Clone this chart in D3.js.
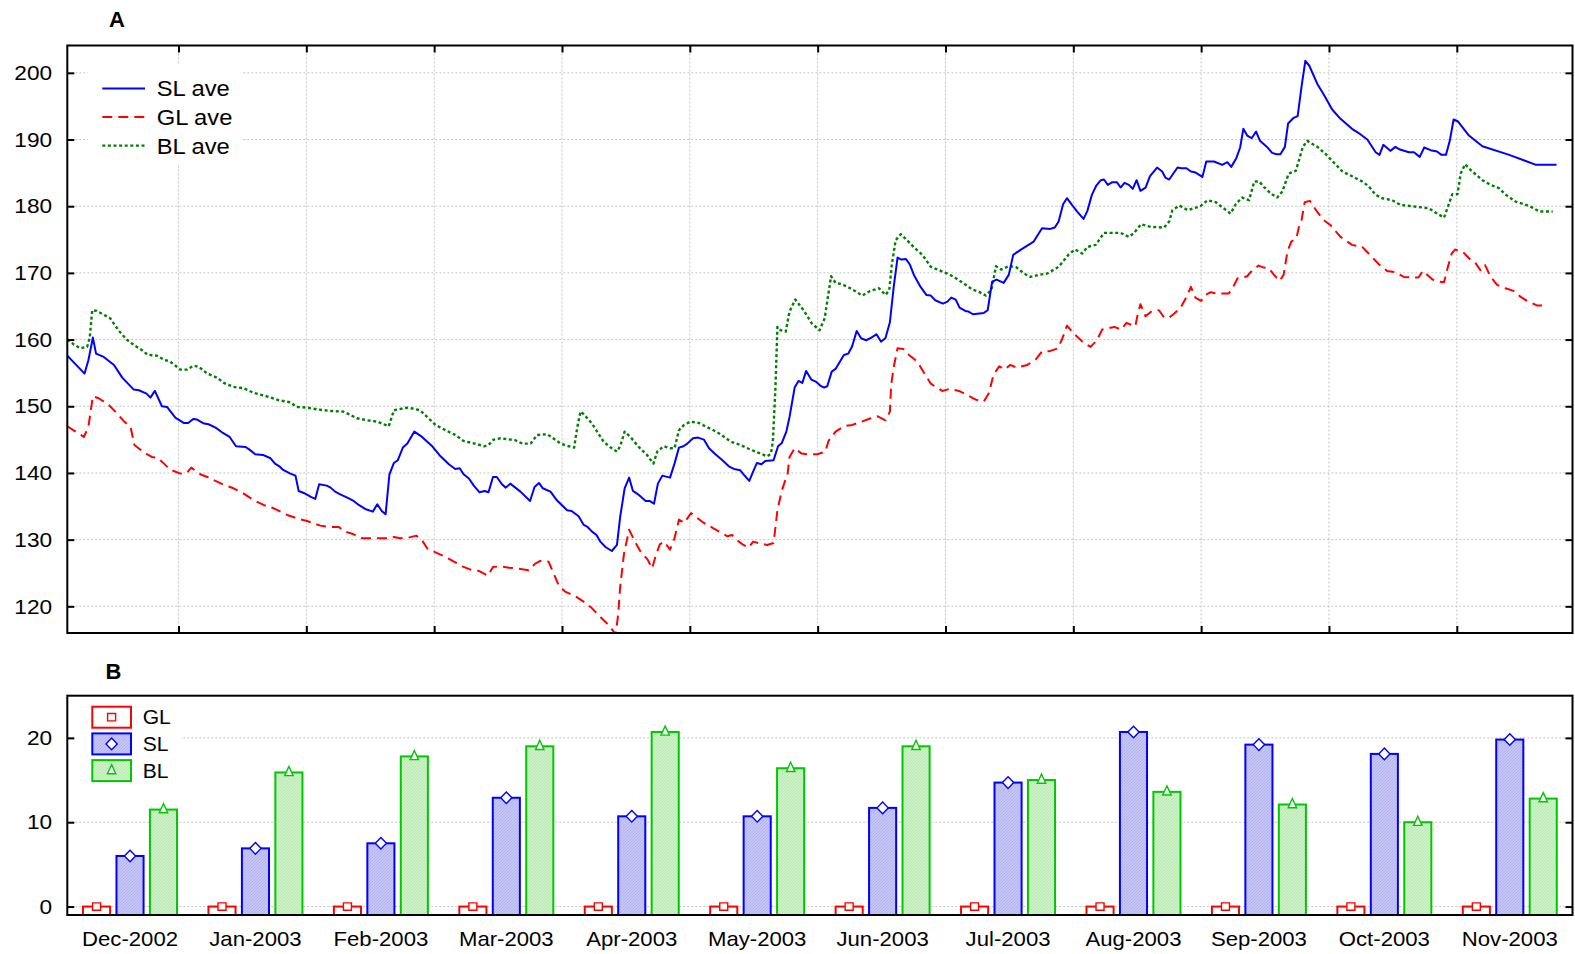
<!DOCTYPE html>
<html>
<head>
<meta charset="utf-8">
<script src="https://cdn.jsdelivr.net/npm/d3@7"></script>
<style>
  body { margin: 0; background: #fff; }
  svg { display: block; font-family: "Liberation Sans", Arial, sans-serif; }
  .grid line { stroke: #c4c4c4; stroke-width: 1; stroke-dasharray: 2,2; }
  .ticks line { stroke: #000; stroke-width: 2; }
  .ticks path { display: none; }
</style>
</head>
<body>
<div id="chart"></div>
<script>
// ---- data: panel A, daily averages as [day index, value]
const slAve = [[0,157.6],[2.7,154.9],[3.3,156.9],[4.0,160.3],[4.5,157.9],[5.7,157.4],[7.3,156.2],[8.6,154.3],[10.4,152.5],[11.2,152.4],[12.4,151.9],[13.0,151.3],[13.7,152.3],[14.8,150.0],[15.6,149.9],[16.9,148.3],[18.2,147.5],[18.9,147.5],[19.7,148.1],[20.3,148.0],[21.4,147.4],[22.1,147.3],[23.2,146.8],[24.2,146.1],[25.4,145.4],[26.4,144.0],[27.9,143.9],[28.5,143.5],[29.4,142.8],[30.6,142.7],[31.8,142.2],[32.5,141.4],[33.3,140.9],[33.7,140.5],[34.9,139.9],[35.7,139.6],[36.2,137.3],[37.0,137.0],[38.1,136.4],[38.8,136.1],[39.4,138.3],[40.6,138.1],[41.2,137.8],[41.9,137.2],[42.7,136.8],[43.8,136.3],[44.8,135.8],[45.6,135.2],[46.6,134.6],[47.8,134.2],[48.5,135.3],[49.2,134.3],[49.8,133.8],[50.4,139.8],[51.1,141.5],[51.7,141.9],[52.5,143.8],[53.2,144.4],[54.3,146.2],[55.5,145.4],[57.1,144.0],[58.4,142.5],[59.7,141.3],[60.7,140.6],[61.4,140.7],[62.0,139.8],[62.8,139.2],[63.6,138.1],[64.5,137.1],[65.3,137.3],[65.9,137.1],[66.6,139.4],[67.2,139.4],[68.0,138.3],[68.6,137.8],[69.3,138.4],[70.1,137.8],[70.9,137.2],[72.4,135.8],[73.1,137.9],[73.8,138.5],[74.4,137.7],[75.6,137.2],[76.6,135.9],[78.2,134.4],[78.9,134.3],[80.0,133.5],[80.8,132.2],[81.4,131.9],[82.1,131.2],[82.8,130.7],[83.4,129.7],[84.2,128.9],[85.2,128.3],[86.0,129.2],[86.5,133.4],[87.2,137.7],[87.9,139.3],[88.5,137.3],[89.3,136.8],[90.5,135.8],[91.1,135.8],[91.8,135.4],[92.4,138.4],[93.1,139.6],[94.3,139.3],[95.0,141.4],[95.7,143.8],[96.4,144.0],[97.0,144.4],[97.9,145.2],[98.7,145.3],[99.6,145.0],[100.4,143.7],[101.4,142.8],[102.5,141.9],[103.5,141.0],[104.3,140.6],[105.3,140.4],[105.8,139.8],[106.7,138.8],[107.3,140.2],[107.9,141.5],[108.6,141.3],[109.2,141.8],[110.5,141.9],[111.2,144.0],[111.8,144.5],[112.5,146.2],[113.0,148.4],[113.8,152.8],[114.4,153.8],[115.0,153.5],[115.6,155.3],[116.4,154.0],[117.1,153.7],[117.8,153.1],[118.4,152.8],[118.9,153.0],[119.6,155.2],[120.2,155.6],[121.5,157.7],[122.2,157.9],[122.8,159.0],[123.5,161.3],[124.2,160.2],[125.0,159.9],[125.8,160.3],[126.6,160.8],[127.3,159.7],[128.0,160.2],[128.7,162.6],[129.3,167.9],[129.9,172.3],[130.5,172.0],[131.2,172.1],[131.8,171.3],[132.5,169.6],[133.5,167.9],[134.4,166.7],[135.1,166.6],[135.8,165.9],[137.0,165.4],[137.7,165.7],[138.3,166.3],[139.0,166.0],[139.6,164.8],[140.5,164.3],[141.0,164.2],[141.7,163.8],[143.4,164.0],[144.0,164.4],[144.7,168.7],[145.4,169.0],[146.5,168.5],[147.3,169.7],[148.0,172.7],[149.2,173.5],[150.2,174.1],[151.2,174.7],[152.5,176.7],[153.8,176.6],[154.5,176.8],[155.1,177.7],[155.8,180.3],[156.4,181.2],[157.1,180.3],[158.0,179.2],[159.0,178.1],[159.6,179.3],[160.3,181.7],[161.0,183.1],[161.7,183.9],[162.2,184.0],[162.8,183.2],[163.5,183.6],[164.2,183.6],[164.8,182.8],[165.4,183.5],[166.1,183.2],[166.7,182.6],[167.3,183.9],[167.9,182.3],[168.7,182.8],[169.4,184.5],[170.5,185.8],[171.3,185.2],[171.8,184.3],[172.4,184.0],[173.7,185.8],[174.3,185.7],[175.1,185.7],[175.8,185.2],[176.4,185.1],[177.6,184.4],[178.2,186.7],[179.4,186.7],[180.7,186.2],[181.5,186.6],[182.1,185.9],[182.9,187.2],[183.5,188.8],[184.0,191.6],[184.6,190.6],[185.3,190.2],[186.0,191.2],[186.6,189.8],[187.8,188.8],[188.5,188.0],[189.2,187.8],[189.8,187.8],[190.5,188.9],[191.0,192.4],[191.8,193.2],[192.5,193.5],[193.1,197.9],[193.7,201.8],[194.3,201.1],[195.6,198.3],[196.6,196.7],[197.9,194.5],[199.2,193.1],[201.0,191.6],[202.3,190.8],[203.4,190.0],[204.7,188.1],[205.3,187.7],[205.9,189.2],[207.0,188.3],[207.8,188.9],[208.5,188.5],[209.9,188.1],[210.7,188.1],[211.6,187.4],[212.3,188.8],[213.3,188.4],[214.3,188.2],[215.0,187.7],[215.7,187.7],[216.3,189.8],[216.9,193.0],[217.6,192.7],[219.3,190.6],[221.4,189.0],[225.6,187.7],[229.8,186.2],[233.0,186.2]];

const glAve = [[0,147.0],[2.6,145.4],[3.3,146.9],[4.0,151.5],[4.9,151.2],[6.5,150.2],[7.8,148.9],[8.8,147.8],[9.9,146.9],[10.5,144.2],[11.7,143.3],[13.2,142.4],[14.0,142.3],[14.8,141.7],[16.1,140.5],[17.7,139.9],[18.7,140.0],[19.4,140.8],[20.8,139.8],[21.9,139.4],[24.5,138.2],[26.0,137.7],[27.6,136.9],[29.2,135.9],[30.7,135.2],[32.3,134.7],[34.4,133.7],[35.9,133.2],[37.5,132.8],[39.6,132.1],[40.9,131.9],[42.5,131.9],[43.2,131.3],[44.8,130.8],[46.1,130.2],[49.0,130.2],[50.3,130.2],[51.1,130.4],[52.1,130.2],[53.4,130.3],[54.6,130.6],[55.5,129.9],[56.3,128.7],[57.6,128.1],[59.2,127.4],[60.5,126.7],[61.8,126.0],[63.1,125.5],[64.4,125.3],[65.8,124.6],[66.6,125.9],[67.8,126.0],[69.1,125.8],[70.9,125.6],[72.2,125.4],[73.2,126.4],[74.0,126.8],[75.3,126.7],[76.1,124.9],[76.9,123.1],[77.9,122.2],[79.5,121.5],[81.1,120.5],[82.1,119.7],[83.4,118.4],[84.7,117.2],[85.8,115.8],[86.2,118.9],[86.5,122.9],[87.1,127.9],[87.9,131.5],[88.7,129.9],[89.7,128.2],[90.8,127.0],[91.5,125.7],[92.0,127.4],[92.7,129.3],[93.4,129.7],[94.3,128.5],[95.0,130.2],[95.7,133.0],[96.5,132.5],[97.6,134.0],[98.5,133.3],[99.6,132.5],[101.1,131.7],[102.5,130.9],[103.3,130.5],[104.0,130.7],[104.8,129.9],[105.8,129.2],[106.6,128.8],[107.3,129.7],[108.5,129.4],[109.5,129.2],[110.5,129.5],[110.8,131.9],[111.1,134.4],[111.8,137.4],[112.7,139.9],[113.0,142.4],[113.8,143.7],[114.9,142.9],[115.9,142.8],[117.3,142.8],[118.6,143.2],[119.1,144.8],[120.2,146.2],[121.5,147.0],[122.8,147.2],[124.3,147.7],[125.7,148.2],[126.7,148.5],[127.2,148.3],[128.0,147.9],[128.7,149.2],[128.9,153.2],[129.3,155.9],[129.9,158.7],[130.8,158.6],[131.7,157.7],[133.0,156.7],[134.1,154.9],[135.1,153.4],[136.2,152.7],[136.9,152.3],[138.0,152.6],[139.5,152.3],[140.8,151.7],[142.1,151.0],[143.4,150.7],[144.2,152.0],[144.9,154.7],[145.8,156.0],[146.7,155.5],[147.5,156.2],[148.6,155.8],[150.2,156.2],[151.5,157.0],[152.5,158.2],[153.8,158.3],[155.0,158.7],[155.7,160.2],[156.4,162.1],[157.5,160.9],[158.8,159.7],[160.1,158.9],[161.1,159.9],[161.9,161.5],[162.8,161.7],[163.8,161.9],[164.9,161.5],[165.7,162.5],[167.1,162.0],[167.5,163.9],[167.9,165.3],[168.7,163.5],[169.7,164.3],[170.8,164.4],[171.6,163.3],[172.4,163.3],[173.2,163.9],[174.2,164.8],[175.1,166.4],[175.8,167.9],[176.5,166.3],[177.4,165.8],[178.1,166.7],[178.9,167.1],[179.9,166.9],[181.7,166.9],[182.4,167.9],[183.1,169.2],[183.8,169.3],[184.6,169.5],[185.4,170.4],[186.4,171.1],[187.2,170.8],[188.0,170.7],[188.8,169.7],[189.7,168.8],[190.3,169.7],[190.9,173.2],[191.5,174.7],[192.3,175.2],[192.7,176.9],[193.1,177.9],[193.6,180.6],[194.4,180.8],[195.6,179.1],[196.6,177.9],[197.7,177.1],[199.2,175.4],[201.0,174.2],[202.6,173.9],[204.2,172.3],[205.2,171.3],[206.5,170.3],[207.8,170.1],[209.1,169.4],[210.4,169.3],[211.4,169.3],[212.1,170.3],[212.8,169.7],[213.6,169.0],[214.6,168.7],[215.4,168.6],[216.0,170.9],[216.6,172.9],[217.1,173.5],[218.3,173.2],[219.5,172.0],[220.3,171.5],[221.1,170.4],[221.8,171.2],[222.7,169.4],[223.7,168.2],[225.0,167.7],[226.3,167.3],[227.4,166.4],[228.4,165.8],[230.0,165.1],[231.5,165.1]];

const blAve = [[0,160.0],[1.0,159.3],[2.0,158.7],[3.1,158.9],[3.5,160.2],[3.9,164.4],[4.6,164.3],[6.7,163.2],[8.0,161.4],[9.3,160.0],[10.1,159.4],[11.7,158.4],[12.6,157.7],[14.0,157.6],[15.1,157.0],[16.1,156.7],[17.7,155.5],[18.7,155.5],[19.8,156.1],[20.6,155.9],[21.9,154.9],[23.4,154.3],[24.5,153.5],[26.0,152.9],[27.6,152.7],[29.2,152.0],[31.2,151.5],[33.1,150.9],[34.9,150.6],[35.9,149.9],[37.5,149.8],[39.3,149.5],[41.2,149.3],[43.2,149.2],[44.3,148.7],[45.3,148.2],[46.9,147.9],[48.5,147.7],[50.3,147.0],[51.1,149.4],[52.6,149.7],[53.4,149.8],[55.2,149.4],[56.3,148.4],[57.6,147.2],[59.2,146.4],[60.7,145.7],[62.0,144.8],[63.8,144.4],[65.2,144.0],[65.9,144.2],[66.7,145.0],[67.8,145.2],[70.1,144.9],[71.2,144.4],[72.5,144.4],[73.5,145.7],[75.1,145.8],[77.2,144.4],[78.5,144.0],[79.3,143.8],[79.8,146.9],[80.3,149.2],[80.8,148.8],[82.1,147.4],[83.9,144.7],[84.9,143.9],[86.0,143.2],[86.5,144.0],[87.2,146.2],[88.1,145.4],[89.4,143.9],[90.7,142.7],[91.7,141.4],[92.3,143.2],[93.3,144.0],[94.4,143.7],[95.0,143.7],[95.7,146.4],[96.5,147.2],[97.5,147.7],[98.8,147.5],[99.8,147.0],[101.1,146.4],[102.2,145.8],[103.8,144.7],[105.3,144.2],[106.9,143.5],[108.2,143.0],[109.5,142.5],[110.1,142.9],[110.4,144.9],[110.8,152.9],[111.1,161.9],[111.6,161.4],[112.4,161.2],[113.0,164.2],[113.9,166.0],[115.2,164.4],[116.5,162.4],[117.7,161.4],[118.5,163.2],[119.0,166.4],[119.5,169.5],[120.2,168.5],[121.2,168.3],[122.5,167.7],[124.4,166.6],[125.6,167.3],[127.0,167.7],[128.0,166.7],[128.6,167.4],[129.0,171.2],[129.6,174.9],[130.4,175.8],[131.4,174.9],[132.5,173.8],[133.8,172.7],[135.1,170.9],[136.4,170.4],[137.7,169.9],[138.7,169.4],[140.3,168.4],[141.6,167.5],[142.6,167.2],[143.7,166.6],[144.6,167.5],[145.3,171.0],[146.1,170.5],[147.3,171.0],[148.4,170.9],[149.7,169.9],[150.7,169.4],[152.0,169.7],[153.3,169.9],[155.1,170.9],[156.7,172.8],[157.7,173.5],[158.8,172.9],[159.6,173.9],[160.9,174.2],[162.2,176.0],[164.8,176.0],[166.1,175.4],[166.9,176.0],[168.0,177.3],[169.5,176.9],[171.6,176.8],[172.4,177.7],[172.9,179.4],[174.0,180.1],[175.3,179.4],[177.3,180.0],[178.4,180.9],[179.7,180.6],[180.9,179.7],[182.0,178.9],[182.8,180.3],[183.8,181.3],[184.9,180.9],[185.7,183.7],[186.5,183.7],[187.2,182.9],[188.3,181.9],[189.3,181.3],[190.1,182.2],[191.1,184.9],[192.2,185.3],[192.8,187.2],[193.3,188.9],[194.0,189.8],[195.6,188.9],[196.9,187.8],[198.7,186.0],[199.5,185.2],[201.0,184.5],[202.6,183.7],[203.6,183.0],[204.7,181.7],[205.7,181.2],[207.3,180.9],[208.6,180.2],[211.2,179.9],[213.0,179.7],[214.3,178.9],[215.4,178.3],[216.0,179.9],[216.7,181.8],[217.5,181.8],[218.0,184.9],[218.7,186.3],[219.6,185.4],[221.4,183.9],[222.7,183.2],[224.0,182.7],[225.1,181.7],[226.6,180.7],[227.9,180.3],[229.0,179.9],[230.3,179.2],[232.4,179.2]];

const dayDomain = [0, 235.5];
const dayTicks = [17.4, 37.4, 57.4, 77.4, 97.4, 117.4, 137.4, 157.4, 177.4, 197.4, 217.4];
const yTicksA = [120, 130, 140, 150, 160, 170, 180, 190, 200];

// ---- data: panel B, monthly counts
const months = ["Dec-2002","Jan-2003","Feb-2003","Mar-2003","Apr-2003","May-2003",
                "Jun-2003","Jul-2003","Aug-2003","Sep-2003","Oct-2003","Nov-2003"];
const glCount = [0, 0, 0, 0, 0, 0, 0, 0, 0, 0, 0, 0];
const slCount = [6.0, 6.9, 7.5, 12.9, 10.7, 10.7, 11.7, 14.7, 20.7, 19.2, 18.1, 19.8];
const blCount = [11.5, 15.9, 17.8, 19.0, 20.7, 16.4, 19.0, 15.0, 13.6, 12.1, 10.0, 12.8];
const yTicksB = [0, 10, 20];

const width = 1575, height = 954;
const TEXT_STRETCH = "scale(1.08,1)";

const svg = d3.select("#chart").append("svg")
    .attr("width", width)
    .attr("height", height);

const defs = svg.append("defs");

// light hatched fills used by the SL / BL bars
function hatch(id, bg, fg) {
  const p = defs.append("pattern")
      .attr("id", id)
      .attr("width", 3).attr("height", 3)
      .attr("patternUnits", "userSpaceOnUse");
  p.append("rect").attr("width", 3).attr("height", 3).attr("fill", bg);
  p.append("path").attr("d", "M0,3L3,0").attr("stroke", fg).attr("stroke-width", 0.7);
}
hatch("hatchSL", "#c6c6f6", "#a9a9ee");
hatch("hatchBL", "#cdf2c8", "#afe2a8");

// ================= Panel A =================
const A = {left: 67.3, right: 1572.5, top: 45.5, bottom: 633};

const x = d3.scaleLinear().domain(dayDomain).range([A.left, A.right]);
const y = d3.scaleLinear().domain([116, 204.1]).range([A.bottom, A.top]);

const gridA = svg.append("g").attr("class", "grid");
gridA.selectAll(".gx").data(dayTicks).enter().append("line")
    .attr("x1", d => x(d)).attr("x2", d => x(d))
    .attr("y1", A.top).attr("y2", A.bottom);
gridA.selectAll(".gy").data(yTicksA).enter().append("line")
    .attr("x1", A.left).attr("x2", A.right)
    .attr("y1", d => y(d)).attr("y2", d => y(d));

defs.append("clipPath").attr("id", "clipA")
  .append("rect")
    .attr("x", A.left).attr("y", A.top)
    .attr("width", A.right - A.left).attr("height", A.bottom - A.top);

const series = [
  {name: "SL ave", data: slAve, color: "#0000ff", dash: null, w: 2},
  {name: "GL ave", data: glAve, color: "#ff0000", dash: "10,6", w: 2},
  {name: "BL ave", data: blAve, color: "#008000", dash: "3,2.6", w: 2.4}
];

const line = d3.line().x(d => x(d[0])).y(d => y(d[1]));

const linesG = svg.append("g").attr("clip-path", "url(#clipA)");
// draw red first, then green, blue on top
[series[1], series[2], series[0]].forEach(s => {
  linesG.append("path")
      .attr("d", line(s.data))
      .attr("fill", "none")
      .attr("stroke", s.color)
      .attr("stroke-width", s.w)
      .attr("stroke-dasharray", s.dash)
      .attr("stroke-linejoin", "round");
});

// Legend A (white box hides the grid behind it)
svg.append("rect")
    .attr("x", 88).attr("y", 65).attr("width", 153).attr("height", 100)
    .attr("fill", "#fff");
const legA = svg.append("g");
series.forEach((s, i) => {
  const ly = 88.4 + i * 28.6;
  legA.append("line")
      .attr("x1", 102.3).attr("x2", 145)
      .attr("y1", ly).attr("y2", ly)
      .attr("stroke", s.color)
      .attr("stroke-width", s.w)
      .attr("stroke-dasharray", s.dash);
  legA.append("text")
      .attr("transform", `translate(156.7,${ly + 8}) ${TEXT_STRETCH}`)
      .attr("font-size", 22)
      .text(s.name);
});

// frame + ticks on all four sides
svg.append("rect")
    .attr("x", A.left).attr("y", A.top)
    .attr("width", A.right - A.left).attr("height", A.bottom - A.top)
    .attr("fill", "none").attr("stroke", "#000").attr("stroke-width", 2);

const axA = svg.append("g").attr("class", "ticks")
    .attr("transform", `translate(${A.left},0)`)
    .call(d3.axisLeft(y).tickValues(yTicksA).tickSize(-7).tickPadding(14));
axA.selectAll("text")
    .attr("font-size", 21).attr("font-family", null).attr("fill", "#000")
    .attr("transform", TEXT_STRETCH);
axA.attr("font-family", null).attr("font-size", null);

svg.append("g").attr("class", "ticks")
    .attr("transform", `translate(${A.right},0)`)
    .call(d3.axisRight(y).tickValues(yTicksA).tickSize(-7).tickFormat(""));
svg.append("g").attr("class", "ticks")
    .attr("transform", `translate(0,${A.top})`)
    .call(d3.axisTop(x).tickValues(dayTicks).tickSize(-7).tickFormat(""));
svg.append("g").attr("class", "ticks")
    .attr("transform", `translate(0,${A.bottom})`)
    .call(d3.axisBottom(x).tickValues(dayTicks).tickSize(-7).tickFormat(""));

svg.append("text")
    .attr("x", 117).attr("y", 27)
    .attr("text-anchor", "middle")
    .attr("font-size", 22).attr("font-weight", "bold")
    .text("A");

// ================= Panel B =================
const B = {left: 67.3, right: 1572.5, top: 695.7, bottom: 915};

const xB = d3.scaleBand().domain(months).range([B.left, B.right]).padding(0);
const bw = xB.bandwidth();
const xS = d3.scaleBand().domain(["GL", "SL", "BL"])
    .range([bw * 0.1, bw * 0.9])
    .paddingInner(0.19).paddingOuter(0.095);
const yB = d3.scaleLinear().domain([-1, 25]).range([B.bottom, B.top]);

svg.append("g").attr("class", "grid")
  .selectAll("line").data(yTicksB).enter().append("line")
    .attr("x1", B.left).attr("x2", B.right)
    .attr("y1", d => yB(d)).attr("y2", d => yB(d));

const barSeries = [
  {key: "GL", values: glCount, stroke: "#ff0000", fill: "#fff", marker: "square"},
  {key: "SL", values: slCount, stroke: "#0000ff", fill: "url(#hatchSL)", marker: "diamond"},
  {key: "BL", values: blCount, stroke: "#00c800", fill: "url(#hatchBL)", marker: "triangle"}
];

const markerPath = {
  square: "M-4,-3.7H4V3.7H-4Z",
  diamond: "M0,-5.8L5.6,0L0,5.8L-5.6,0Z",
  triangle: "M0,-6L4.2,3.2H-4.2Z"
};

barSeries.forEach(s => {
  const g = svg.append("g");
  const rows = months.map((m, i) => ({m, v: s.values[i]}));
  g.selectAll("rect").data(rows).enter().append("rect")
      .attr("x", d => xB(d.m) + xS(s.key))
      .attr("y", d => yB(d.v))
      .attr("width", xS.bandwidth())
      .attr("height", d => B.bottom - yB(d.v))
      .attr("fill", s.fill)
      .attr("stroke", s.stroke)
      .attr("stroke-width", 2);
  g.selectAll("path").data(rows).enter().append("path")
      .attr("transform", d => `translate(${xB(d.m) + xS(s.key) + xS.bandwidth() / 2},${yB(d.v)})`)
      .attr("d", markerPath[s.marker])
      .attr("fill", "#fff")
      .attr("stroke", s.stroke)
      .attr("stroke-width", 1.4);
});

// Legend B
svg.append("rect")
    .attr("x", 75).attr("y", 699).attr("width", 106).attr("height", 90)
    .attr("fill", "#fff");
barSeries.forEach((s, i) => {
  const top = 706.7 + i * 26.7;
  svg.append("rect")
      .attr("x", 92.3).attr("y", top).attr("width", 38.7).attr("height", 21)
      .attr("fill", s.fill).attr("stroke", s.stroke).attr("stroke-width", 2);
  svg.append("path")
      .attr("transform", `translate(111.6,${top + 10.5})`)
      .attr("d", markerPath[s.marker])
      .attr("fill", "#fff").attr("stroke", s.stroke).attr("stroke-width", 1.4);
  svg.append("text")
      .attr("transform", `translate(142.7,${top + 17.5}) ${TEXT_STRETCH}`)
      .attr("font-size", 19.5)
      .text(s.key);
});

svg.append("rect")
    .attr("x", B.left).attr("y", B.top)
    .attr("width", B.right - B.left).attr("height", B.bottom - B.top)
    .attr("fill", "none").attr("stroke", "#000").attr("stroke-width", 2);

const axB = svg.append("g").attr("class", "ticks")
    .attr("transform", `translate(${B.left},0)`)
    .call(d3.axisLeft(yB).tickValues(yTicksB).tickSize(-7).tickPadding(14));
axB.selectAll("text")
    .attr("font-size", 21).attr("fill", "#000")
    .attr("transform", TEXT_STRETCH);
axB.attr("font-family", null).attr("font-size", null);

svg.append("g").attr("class", "ticks")
    .attr("transform", `translate(${B.right},0)`)
    .call(d3.axisRight(yB).tickValues(yTicksB).tickSize(-7).tickFormat(""));

svg.append("g").selectAll("text").data(months).enter().append("text")
    .attr("transform", d => `translate(${xB(d) + bw / 2},945.5) ${TEXT_STRETCH}`)
    .attr("text-anchor", "middle")
    .attr("font-size", 20.5)
    .text(d => d);

svg.append("text")
    .attr("x", 113.5).attr("y", 678.5)
    .attr("text-anchor", "middle")
    .attr("font-size", 22).attr("font-weight", "bold")
    .text("B");
</script>
</body>
</html>
